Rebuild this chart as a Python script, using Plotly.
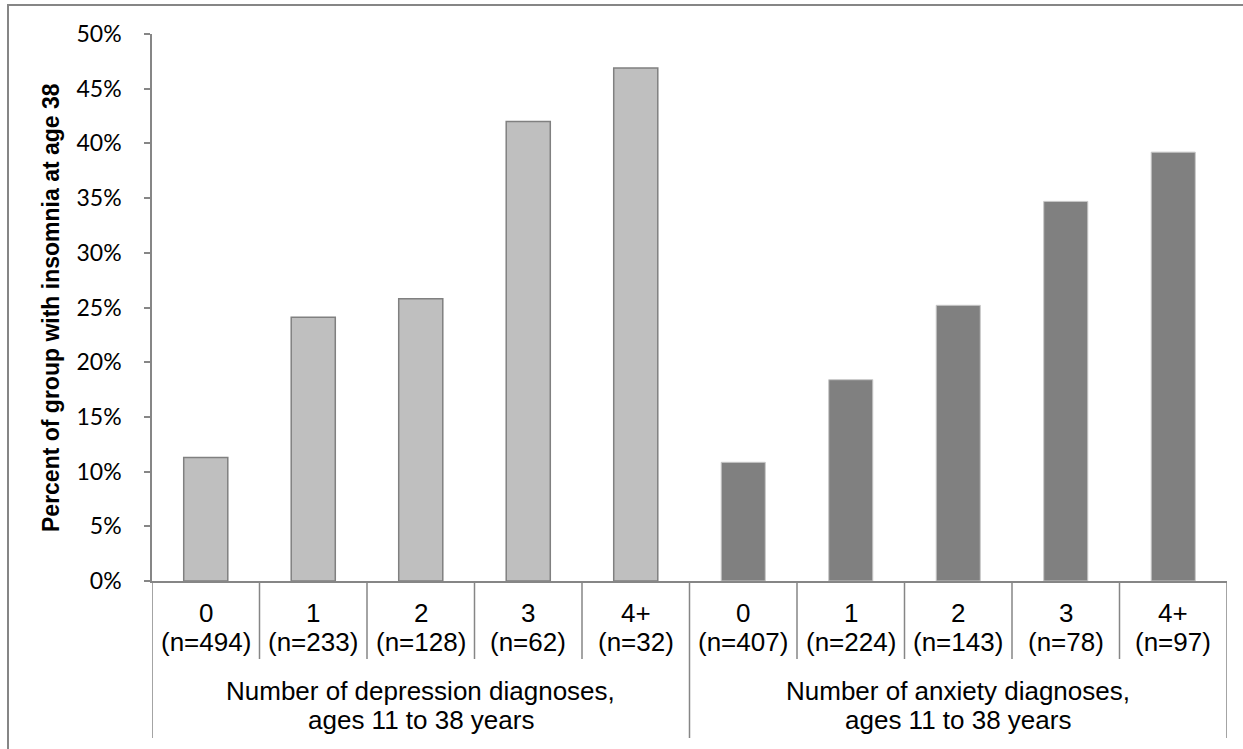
import plotly.graph_objects as go

# ---- data ----
levels = ["0", "1", "2", "3", "4+"]
dep_n = [494, 233, 128, 62, 32]
anx_n = [407, 224, 143, 78, 97]
dep_pct = [11.3, 24.1, 25.8, 42.0, 46.9]
anx_pct = [10.85, 18.4, 25.2, 34.7, 39.2]
group_labels = ["Number of depression diagnoses,<br>ages 11 to 38 years",
                "Number of anxiety diagnoses,<br>ages 11 to 38 years"]
y_title = "Percent of group with insomnia at age 38"
y_ticks = [0, 5, 10, 15, 20, 25, 30, 35, 40, 45, 50]

dep_cats = [f"d{l}|{n}" for l, n in zip(levels, dep_n)]
anx_cats = [f"a{l}|{n}" for l, n in zip(levels, anx_n)]
all_cats = dep_cats + anx_cats
all_levels = levels + levels
all_n = dep_n + anx_n

# layout geometry (pixels)
W, H = 1243, 749
L, R, T, B = 152, 16, 34, 168
plot_h = H - T - B  # 547
plot_w = W - L - R


def py(ypix):
    """pixel y -> paper y"""
    return (H - B - ypix) / plot_h


def px(xpix):
    return (xpix - L) / plot_w


fig = go.Figure()
fig.add_trace(go.Bar(
    x=dep_cats, y=[v / 100 for v in dep_pct],
    marker=dict(color="#BFBFBF", line=dict(color="#808080", width=1.5)),
    showlegend=False, hoverinfo="y"))
fig.add_trace(go.Bar(
    x=anx_cats, y=[v / 100 for v in anx_pct],
    marker=dict(color="#808080", line=dict(color="#C8C8C8", width=1)),
    showlegend=False, hoverinfo="y"))

axis_col = "#868686"
shapes = []
# category separators
n_cat = len(all_cats)
for i in range(n_cat + 1):
    is_group = (i % 5 == 0)
    shapes.append(dict(type="line", xref="x", yref="paper",
                       x0=i - 0.5, x1=i - 0.5, y0=0,
                       y1=py(738) if is_group else py(659),
                       line=dict(color=axis_col, width=1.5)))
# outer frame
shapes.append(dict(type="rect", xref="paper", yref="paper",
                   x0=px(8), x1=px(1260), y0=py(770), y1=py(5),
                   line=dict(color=axis_col, width=2), fillcolor="rgba(0,0,0,0)"))

annotations = []
xfont = dict(family="Liberation Sans, Arial", size=26, color="#000000")
for i, (lv, n) in enumerate(zip(all_levels, all_n)):
    annotations.append(dict(x=i, y=py(613), xref="x", yref="paper", text=lv,
                            showarrow=False, font=xfont, xanchor="center", yanchor="middle"))
    annotations.append(dict(x=i, y=py(642), xref="x", yref="paper", text=f"(n={n})",
                            showarrow=False, font=xfont, xanchor="center", yanchor="middle"))
for g, txt in enumerate(group_labels):
    first, second = txt.split("<br>")
    annotations.append(dict(x=g * 5 + 2, y=py(691), xref="x", yref="paper", text=first,
                            showarrow=False, font=xfont, xanchor="center", yanchor="middle"))
    annotations.append(dict(x=g * 5 + 2, y=py(720), xref="x", yref="paper", text=second,
                            showarrow=False, font=xfont, xanchor="center", yanchor="middle"))
# y title
annotations.append(dict(x=px(51), y=py(308), xref="paper", yref="paper", text=y_title,
                        textangle=-90, showarrow=False,
                        font=dict(family="Liberation Sans, Arial", size=23, color="#000000",
                                  weight="bold"),
                        xanchor="center", yanchor="middle"))

fig.update_layout(
    width=W, height=H,
    margin=dict(l=L, r=R, t=T, b=B, pad=0),
    paper_bgcolor="white", plot_bgcolor="white",
    barmode="overlay", bargap=0.59,
    shapes=shapes, annotations=annotations,
    xaxis=dict(type="category", categoryorder="array", categoryarray=all_cats,
               range=[-0.5, n_cat - 0.5], showticklabels=False, ticks="",
               showgrid=False, zeroline=False, showline=True,
               linecolor=axis_col, linewidth=1.5),
    yaxis=dict(range=[0, 0.5], tickvals=[v / 100 for v in y_ticks],
               ticktext=[f"{v}%" for v in y_ticks],
               ticks="outside", ticklen=6, tickcolor=axis_col, tickwidth=1.5,
               showgrid=False, zeroline=False, showline=True,
               linecolor=axis_col, linewidth=1.5, ticklabelstandoff=18,
               tickfont=dict(family="Lato", size=23, color="#000000")),
)

fig.write_html("out.html", config={"displayModeBar": False},
               post_script="document.body.style.margin='0';")
